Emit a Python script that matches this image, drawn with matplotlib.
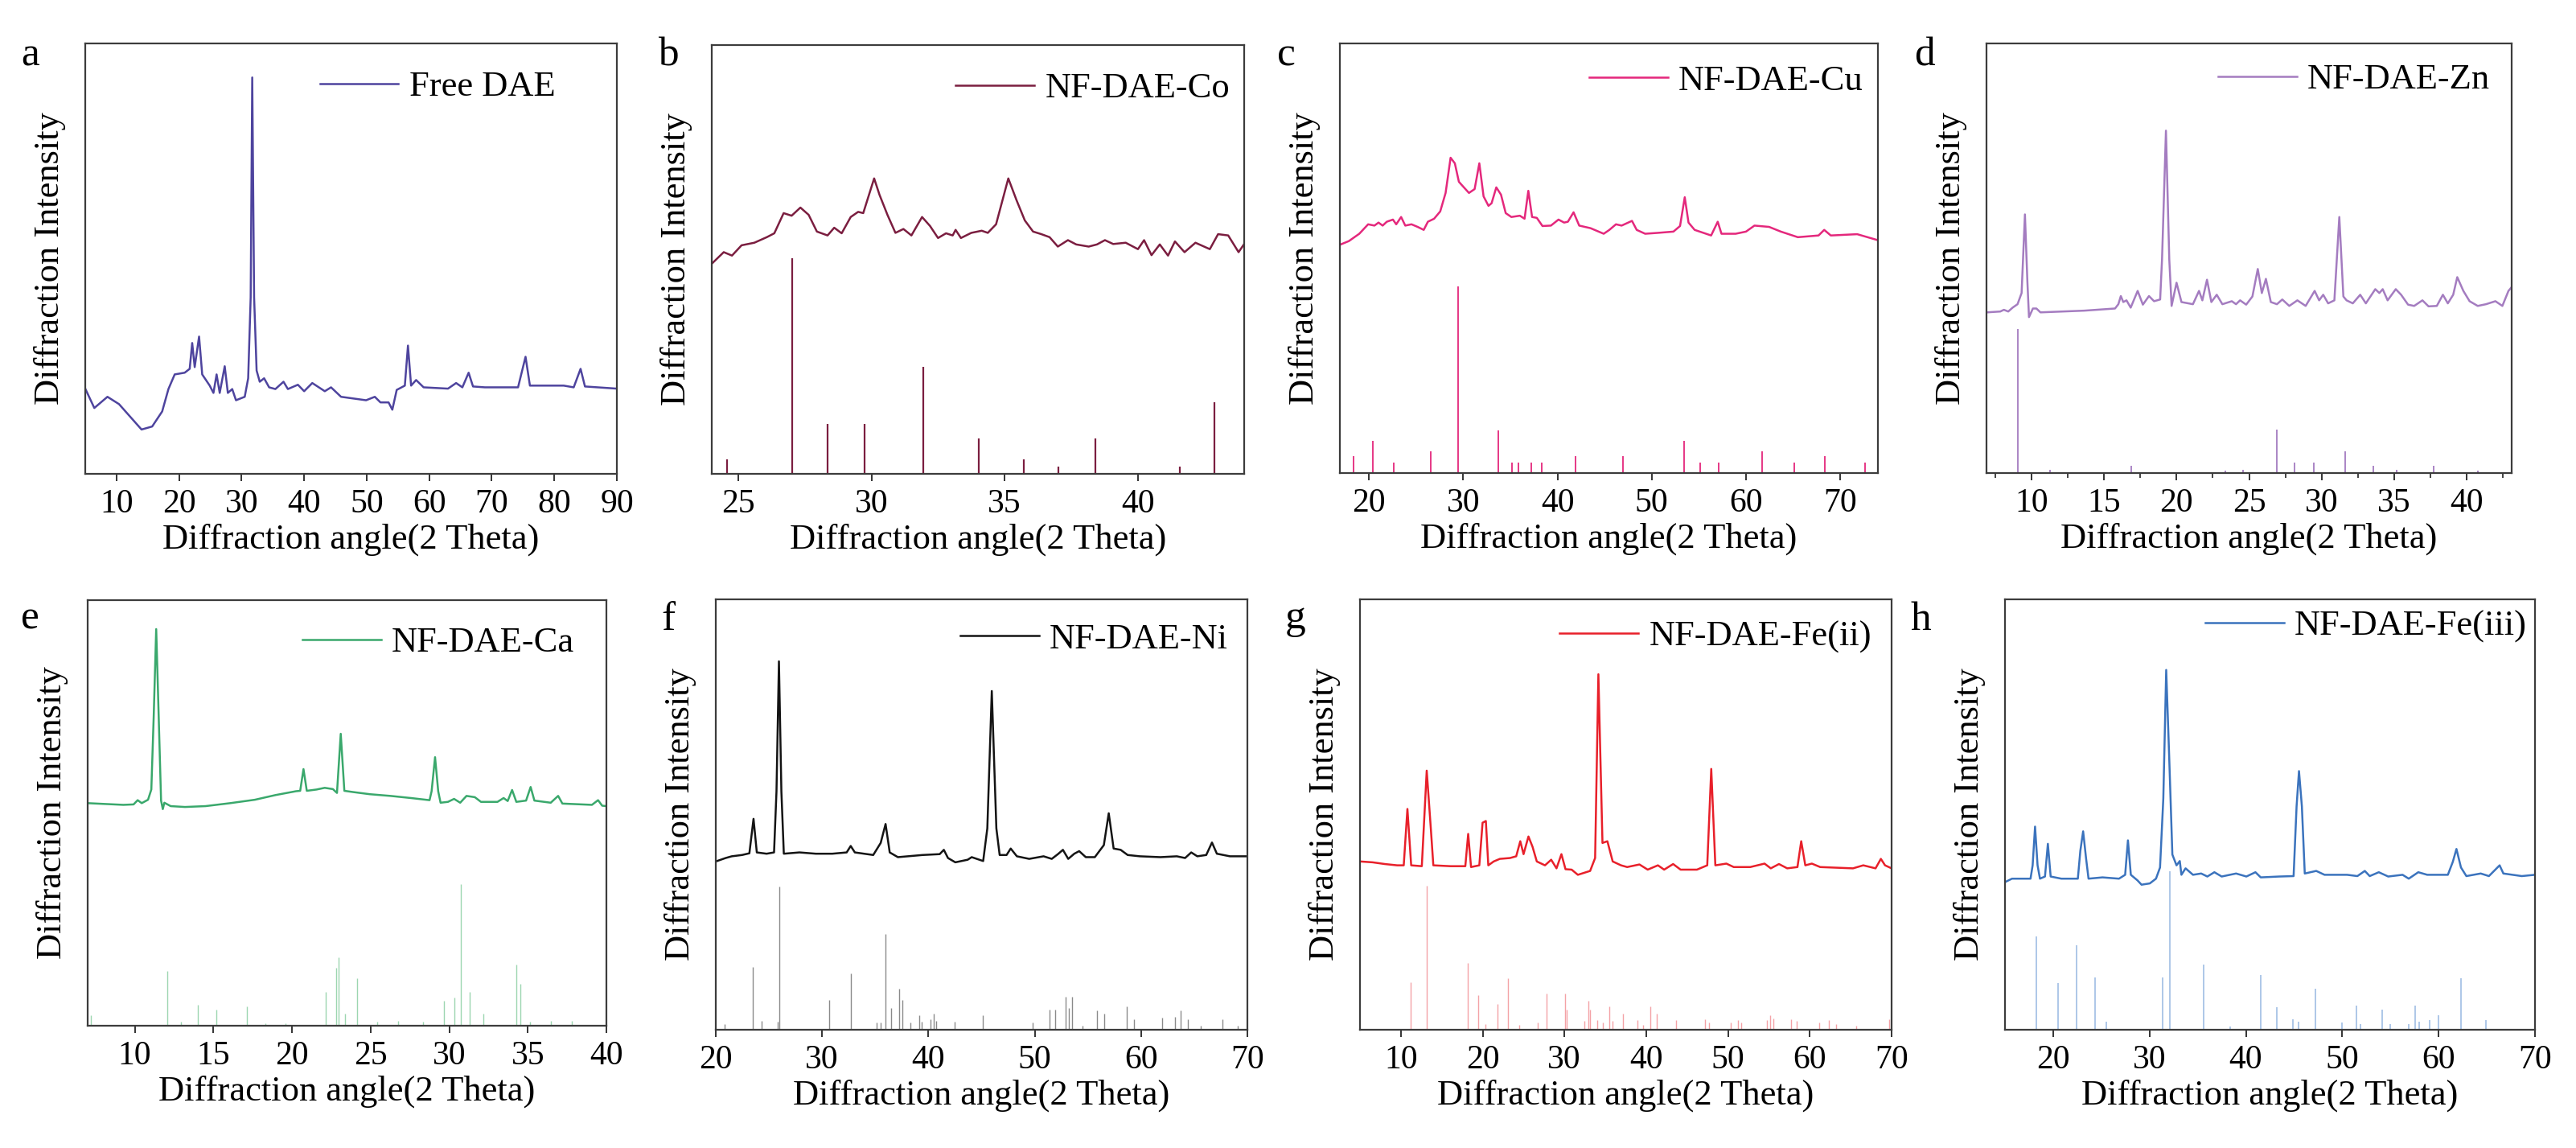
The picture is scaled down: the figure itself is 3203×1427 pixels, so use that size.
import numpy as np
import matplotlib
matplotlib.use("Agg")
import matplotlib.pyplot as plt
from matplotlib.ticker import MultipleLocator

plt.rcParams['font.family'] = ['Liberation Serif', 'DejaVu Serif']

# ---- panel a : Free DAE ----
a_x = [5.0, 6.45, 8.55, 10.4, 14.0, 15.7, 17.3, 18.3, 19.3, 20.9, 21.7, 22.1, 22.5, 23.2, 23.7,
       24.9, 25.5, 26.0, 26.5, 27.3, 27.8, 28.5, 29.1, 30.5, 31.05, 31.45, 31.7, 32.0, 32.4, 32.9,
       33.6, 34.4, 35.4, 36.7, 37.4, 39.0, 40.0, 41.3, 43.3, 44.3, 45.9, 47.9, 49.9, 51.3, 52.2,
       53.5, 54.1, 54.8, 56.1, 56.6, 57.1, 57.9, 59.1, 63.0, 64.3, 65.3, 66.3, 67.0, 68.9, 74.2,
       75.4, 76.1, 81.5, 83.1, 84.2, 84.9, 90.0]
a_y = [19.8, 15.3, 17.9, 16.2, 10.3, 11.0, 14.5, 19.7, 23.1, 23.5, 24.4, 30.4, 24.8, 31.9, 23.1,
       20.5, 18.8, 23.1, 18.8, 25.0, 18.8, 19.7, 17.1, 17.9, 22.2, 41.0, 92.1, 41.0, 24.0, 21.4,
       22.2, 20.1, 19.7, 21.4, 19.7, 20.7, 19.2, 21.1, 19.2, 20.1, 17.9, 17.5, 17.1, 17.9, 16.6,
       16.6, 14.9, 19.5, 20.5, 29.8, 20.5, 21.8, 20.1, 19.8, 21.1, 20.1, 23.5, 20.3, 20.1, 20.1,
       27.2, 20.5, 20.5, 20.1, 24.4, 20.3, 19.8]

# ---- panel b : NF-DAE-Co ----
b_x = [24.0, 24.45, 24.76, 25.12, 25.6, 26.07, 26.35, 26.7, 27.0, 27.33, 27.64, 27.95, 28.35, 28.6,
       28.88, 29.22, 29.5, 29.69, 30.1, 30.3, 30.6, 30.9, 31.2, 31.5, 31.9, 32.2, 32.5, 32.8, 33.05,
       33.16, 33.36, 33.75, 34.14, 34.37, 34.68, 35.14, 35.45, 35.76, 36.07, 36.38, 36.69, 37.0,
       37.38, 37.69, 38.16, 38.47, 38.77, 39.08, 39.55, 40.01, 40.24, 40.52, 40.83, 41.14, 41.4,
       41.76, 42.17, 42.71, 43.02, 43.4, 43.79, 44.0]
b_y = [49.0, 51.7, 50.9, 53.3, 53.9, 55.2, 56.1, 60.8, 60.2, 62.1, 60.4, 56.5, 55.6, 57.4,
       56.1, 59.9, 61.1, 60.8, 68.9, 65.1, 60.4, 56.2, 57.1, 55.6, 59.9, 57.8, 55.0, 56.1, 55.6,
       56.9, 55.0, 56.2, 56.7, 56.2, 58.2, 68.9, 63.8, 59.1, 56.5, 55.9, 55.2, 53.0,
       54.5, 53.5, 53.0, 53.5, 54.5, 53.6, 53.9, 52.4, 54.5, 51.0, 53.5, 50.9, 54.2,
       51.7, 53.9, 52.4, 55.9, 55.6, 51.7, 53.6]
b_ref_x = [24.57, 27.01, 28.36, 29.75, 31.96, 34.02, 35.72, 37.03, 38.42, 41.59, 42.88]
b_ref_h = [3.3, 50.2, 11.7, 11.7, 24.9, 8.2, 3.3, 1.6, 8.2, 1.6, 16.7]

# ---- panel c : NF-DAE-Cu ----
c_x = [16.86, 17.86, 18.96, 19.9, 20.57, 21.0, 21.44, 21.88, 22.53, 22.88, 23.4, 23.84, 24.5, 25.15,
       25.8, 26.24, 26.9, 27.55, 28.12, 28.65, 29.1, 29.53, 30.06, 30.6, 31.2, 31.7, 32.15, 32.67,
       33.0, 33.5, 34.0, 34.5, 35.1, 36.0, 36.5, 36.9, 37.3, 37.8, 38.4, 39.3, 40.1, 40.7, 41.1,
       41.7, 42.3, 43.5, 44.9, 45.5, 46.2, 46.8, 47.9, 48.4, 49.3, 50.6, 52.3, 53.0, 53.5, 53.9,
       54.55, 56.3, 57.0, 57.4, 58.9, 60.0, 60.9, 62.45, 63.7, 65.5, 67.7, 68.3, 69.0, 71.8, 74.0]
c_y = [53.1, 54.0, 55.7, 57.9, 57.6, 58.3, 57.6, 58.5, 59.0, 57.9, 59.6, 57.6, 57.9, 57.3,
       56.6, 58.5, 59.2, 60.9, 65.2, 73.4, 72.1, 67.8, 66.5, 65.2, 66.1, 72.1, 64.4, 62.2,
       62.8, 66.5, 64.8, 60.5, 59.6, 59.9, 59.2, 65.7, 59.6, 59.4, 57.5, 57.6, 59.0, 58.3, 58.5,
       60.7, 57.6, 57.0, 55.7, 56.6, 57.9, 57.6, 58.7, 56.6, 55.7, 55.9, 56.2, 57.5, 64.2, 58.3,
       56.6, 55.3, 58.5, 55.7, 55.7, 56.2, 57.6, 57.3, 56.2, 54.9, 55.3, 56.6, 55.3, 55.6, 54.2]
c_ref_x = [18.34, 20.44, 22.62, 26.54, 29.42, 33.7, 35.14, 35.88, 37.19, 38.32, 41.95, 46.96,
           53.42, 55.17, 57.09, 61.71, 65.11, 68.34, 72.62]
c_ref_h = [4.0, 7.4, 2.4, 5.0, 43.5, 10.0, 2.4, 2.4, 2.4, 2.4, 4.0, 4.0,
           7.4, 2.4, 2.4, 5.0, 2.4, 4.0, 2.4]

# ---- panel d : NF-DAE-Zn ----
d_x = [6.92, 7.85, 8.1, 8.4, 8.7, 9.04, 9.32, 9.55, 9.72, 9.83, 10.1, 10.34, 10.62, 13.64, 15.76,
       15.99, 16.16, 16.33, 16.55, 16.84, 17.32, 17.68, 18.1, 18.45, 18.87, 19.0, 19.27, 19.5,
       19.66, 20.0, 20.34, 21.13, 21.55, 21.78, 22.1, 22.4, 22.77, 23.16, 23.81, 24.1, 24.38,
       24.8, 25.23, 25.6, 25.88, 26.16, 26.5, 26.92, 27.29, 27.77, 28.33, 28.9, 29.52, 29.83,
       30.11, 30.45, 30.88, 31.22, 31.5, 31.72, 32.15, 32.66, 33.05, 33.7, 33.98, 34.21, 34.55,
       35.11, 35.48, 35.96, 36.38, 36.95, 37.37, 37.94, 38.36, 38.7, 39.07, 39.35, 39.77, 40.2,
       40.76, 41.33, 41.98, 42.46, 42.88, 43.08]
d_y = [37.4, 37.6, 38.0, 37.6, 38.5, 39.3, 41.9, 60.2, 44.5, 36.3, 38.3, 38.3, 37.4, 37.8, 38.3,
       39.3, 41.2, 39.8, 40.2, 38.5, 42.4, 39.2, 41.2, 40.0, 40.4, 49.7, 79.7, 49.7,
       38.9, 44.3, 39.8, 39.3, 42.4, 40.2, 45.0, 39.8, 41.5, 39.3, 40.0, 39.3, 40.2,
       39.2, 41.1, 47.5, 41.9, 45.2, 39.8, 39.3, 40.4, 38.9, 40.2, 38.9, 42.4, 40.2,
       41.5, 39.5, 40.2, 59.6, 41.1, 40.2, 39.5, 41.5, 39.5, 42.8, 41.9, 42.8, 40.2,
       42.8, 41.5, 39.2, 38.9, 40.2, 38.8, 38.9, 41.5, 39.5, 41.5, 45.6, 42.4, 40.0,
       38.9, 39.3, 40.0, 38.9, 42.4, 43.2]
d_ref_x = [9.04, 11.3, 16.89, 23.39, 24.58, 26.92, 28.14, 29.46, 31.64, 33.56, 35.2, 37.74, 40.79]
d_ref_h = [33.5, 0.7, 1.7, 0.5, 0.7, 10.2, 2.4, 2.4, 5.0, 1.7, 0.7, 1.7, 0.5]

# ---- panel e : NF-DAE-Ca ----
e_x = [7.0, 9.27, 9.92, 10.18, 10.44, 10.84, 11.05, 11.2, 11.36, 11.52, 11.67, 11.78, 11.88, 12.28,
       13.19, 14.5, 16.07, 17.64, 18.95, 20.25, 20.52, 20.73, 20.94, 21.56, 22.08, 22.6, 22.86,
       23.1, 23.33, 23.9, 24.95, 26.26, 27.57, 28.75, 28.88, 29.1, 29.3, 29.45, 29.92, 30.31,
       30.7, 31.1, 31.63, 32.02, 33.07, 33.46, 33.72, 34.0, 34.27, 34.89, 35.18, 35.42, 36.46,
       36.93, 37.2, 39.08, 39.47, 39.73, 40.0]
e_y = [52.3, 51.9, 52.0, 53.0, 52.3, 53.1, 55.5, 72.5, 93.2, 72.5, 52.9, 50.9, 52.4, 51.6,
       51.4, 51.6, 52.3, 53.1, 54.2, 55.1, 55.2, 60.3, 55.2, 55.5, 55.9, 55.6, 54.7,
       68.6, 55.2, 54.9, 54.4, 54.0, 53.5, 53.0, 55.1, 63.1, 55.1, 52.4, 52.6, 53.3,
       52.4, 54.0, 53.7, 52.6, 52.6, 53.5, 52.8, 55.4, 52.6, 52.9, 56.1, 52.9, 52.4,
       54.0, 52.2, 51.9, 53.0, 51.7, 51.6]
e_ref_x = [7.18, 12.09, 12.93, 14.03, 15.18, 17.11, 18.29, 19.6, 22.14, 22.79, 22.95, 23.39, 24.13,
           25.43, 26.74, 28.31, 29.67, 30.35, 30.72, 31.32, 32.16, 34.25, 34.51, 35.16, 36.47, 37.78]
e_ref_h = [2.4, 12.8, 1.0, 5.0, 3.7, 4.5, 0.6, 0.6, 8.0, 13.7, 16.0, 2.8, 11.1,
           1.0, 1.2, 1.0, 5.8, 6.7, 33.3, 8.0, 2.8, 14.3, 9.8, 0.9, 1.2, 1.2]

# ---- panel f : NF-DAE-Ni ----
f_x = [20.0, 20.93, 21.5, 22.47, 23.16, 23.55, 23.86, 24.78, 25.48, 25.71, 25.94, 26.17, 26.4,
       27.87, 29.41, 30.96, 32.31, 32.69, 33.08, 34.81, 35.51, 35.97, 36.36, 37.13, 39.44, 41.06,
       41.45, 41.84, 42.53, 43.69, 44.07, 45.15, 45.54, 45.96, 46.39, 46.7, 47.35, 47.74, 48.32,
       49.48, 50.83, 51.6, 52.18, 52.65, 53.15, 53.72, 54.18, 54.8, 55.65, 56.5, 56.96, 57.42,
       58.08, 58.74, 59.89, 61.82, 63.36, 64.14, 64.72, 65.29, 66.13, 66.67, 67.13, 68.36, 70.0]
f_y = [39.1, 39.9, 40.3, 40.6, 41.0, 49.0, 41.2, 40.9, 41.2, 55.4, 85.6, 55.4, 40.9,
       41.2, 40.9, 40.9, 41.2, 42.7, 41.2, 40.6, 43.4, 47.8, 41.2, 40.1, 40.6, 40.8,
       41.8, 39.9, 38.9, 39.5, 40.1, 39.2, 46.8, 78.7, 46.8, 40.6, 40.6, 42.1, 40.3,
       39.7, 40.3, 39.7, 40.8, 41.8, 39.7, 40.9, 41.5, 40.1, 40.1, 42.9, 50.3, 42.1,
       41.8, 40.6, 40.3, 40.1, 40.3, 39.9, 41.2, 40.3, 40.6, 43.5, 40.9, 40.3, 40.3]
f_ref_x = [20.81, 23.51, 24.32, 25.79, 25.94, 30.65, 32.69, 35.12, 35.51, 35.97, 36.47, 37.21, 37.52,
           38.29, 39.14, 39.37, 40.22, 40.53, 40.76, 42.45, 45.08, 49.78, 51.4, 51.91, 52.87, 53.22,
           53.53, 54.49, 55.88, 56.5, 58.66, 59.31, 62.01, 63.17, 63.75, 64.44, 65.6, 67.69, 69.07]
f_ref_h = [1.3, 14.5, 2.0, 1.8, 33.2, 7.0, 13.0, 1.6, 1.6, 22.2, 5.0, 9.6, 7.0,
           1.6, 3.3, 1.8, 2.4, 3.7, 2.0, 1.8, 3.3, 1.6, 4.7, 4.7, 7.6, 5.0,
           7.6, 0.9, 4.4, 3.7, 5.4, 2.4, 2.8, 3.0, 4.4, 2.4, 0.9, 2.4, 0.9]

# ---- panel g : NF-DAE-Fe(ii) ----
g_x = [5.0, 6.54, 8.04, 9.55, 10.35, 10.8, 11.26, 12.56, 13.16, 13.66, 13.97, 16.07, 17.88, 18.23,
       18.58, 19.59, 19.99, 20.39, 20.69, 21.35, 22.1, 23.35, 24.1, 24.6, 25.0, 25.6, 26.1, 26.62,
       27.62, 28.38, 29.03, 29.63, 30.13, 30.88, 31.64, 33.14, 33.75, 34.15, 34.65, 35.25, 35.9,
       36.92, 37.67, 39.17, 40.18, 41.43, 42.19, 43.29, 44.2, 46.2, 47.46, 47.95, 48.45, 49.8,
       50.7, 52.72, 54.47, 55.23, 56.23, 57.24, 58.49, 58.95, 59.45, 60.25, 61.27, 65.28, 66.54,
       68.04, 68.69, 69.2, 70.0]
g_y = [39.1, 38.9, 38.5, 38.2, 38.2, 51.3, 38.2, 38.0, 60.2, 46.8, 38.2, 38.0, 38.0, 45.5,
       37.8, 38.2, 48.1, 48.5, 38.2, 39.1, 39.7, 39.9, 40.3, 43.8, 40.8, 44.9, 42.5, 39.1,
       38.2, 39.5, 37.5, 40.8, 37.3, 37.2, 36.0, 36.9, 39.9, 82.6, 43.4, 43.8, 39.1,
       38.2, 37.8, 38.4, 37.2, 38.2, 37.2, 38.5, 37.2, 37.2, 38.2, 60.6, 38.2, 38.6,
       37.8, 37.8, 38.6, 37.5, 38.5, 37.5, 37.8, 43.8, 38.2, 38.6, 37.8, 37.5, 38.2,
       37.5, 39.7, 38.2, 37.5]
g_ref_x = [11.2, 13.16, 18.18, 19.49, 20.34, 21.8, 23.1, 24.51, 26.72, 27.77, 30.03, 30.23, 32.39,
           32.89, 33.14, 34.05, 34.65, 35.5, 35.9, 37.16, 38.92, 39.57, 40.47, 41.28, 43.68, 47.2,
           47.7, 50.31, 51.22, 51.62, 54.73, 55.13, 55.53, 57.74, 58.44, 61.16, 62.36, 63.26,
           65.67, 69.69]
g_ref_h = [11.0, 33.4, 15.6, 8.0, 1.3, 5.9, 11.9, 1.1, 1.6, 8.4, 8.4, 4.6, 2.0,
           6.7, 4.6, 2.2, 1.6, 5.4, 2.0, 3.7, 2.2, 1.1, 5.4, 3.7, 2.2, 2.4,
           1.6, 1.6, 2.2, 1.6, 2.2, 3.3, 2.7, 2.4, 2.0, 1.6, 2.2, 1.3,
           0.9, 2.4]

# ---- panel h : NF-DAE-Fe(iii) ----
h_x = [15.0, 15.73, 16.8, 17.65, 17.87, 18.12, 18.38, 18.63, 19.15, 19.45, 19.74, 20.85, 22.56,
       22.82, 23.11, 23.41, 23.67, 25.12, 26.83, 27.47, 27.76, 28.06, 28.75, 29.17, 30.03, 30.67,
       31.09, 31.43, 31.73, 32.03, 32.37, 32.8, 33.14, 33.31, 33.74, 34.51, 35.36, 36.0, 36.73,
       37.49, 38.98, 40.05, 40.99, 41.54, 43.46, 44.95, 45.26, 45.51, 45.81, 46.11, 47.3, 48.16,
       50.5, 51.57, 52.34, 52.85, 53.79, 54.77, 56.26, 56.9, 57.89, 58.82, 60.96, 61.47, 61.85,
       62.32, 62.88, 64.37, 65.22, 66.33, 66.72, 68.63, 70.0]
h_y = [34.3, 35.1, 35.1, 35.1, 38.2, 47.2, 38.2, 35.1, 35.6, 43.2, 35.6, 35.1, 35.1,
       41.6, 46.1, 39.9, 35.1, 35.4, 35.1, 36.0, 44.0, 36.0, 34.7, 33.7, 34.0, 35.1,
       37.7, 53.7, 83.6, 64.1, 40.7, 38.2, 39.2, 36.0, 37.5, 36.0, 36.3, 35.6, 36.6,
       35.6, 36.3, 35.6, 36.6, 35.4, 35.6, 35.7, 51.9, 60.1, 51.9, 36.3, 36.9, 36.0,
       36.0, 35.7, 36.9, 35.7, 36.6, 35.6, 36.0, 35.1, 36.6, 36.0, 36.0, 39.0, 42.0,
       37.7, 35.7, 36.3, 35.7, 38.2, 36.3, 35.7, 36.0]
h_ref_x = [18.25, 20.51, 22.39, 24.31, 25.55, 31.39, 32.12, 35.61, 38.34, 41.5, 43.17, 44.91, 45.47,
           47.22, 49.99, 51.49, 51.91, 54.13, 54.98, 56.9, 57.59, 57.97, 59.04, 59.97, 62.32, 64.88]
h_ref_h = [21.6, 10.8, 19.6, 12.1, 1.8, 12.1, 36.9, 15.1, 0.7, 12.7, 5.3, 2.4, 1.8,
           9.6, 1.6, 5.6, 1.3, 4.7, 1.3, 1.3, 5.6, 1.8, 2.2, 3.3, 11.9, 2.2]

labels = ['Free DAE', 'NF-DAE-Co', 'NF-DAE-Cu', 'NF-DAE-Zn',
          'NF-DAE-Ca', 'NF-DAE-Ni', 'NF-DAE-Fe(ii)', 'NF-DAE-Fe(iii)']
letters = ['a', 'b', 'c', 'd', 'e', 'f', 'g', 'h']

W, H = 3203, 1427
fig = plt.figure(figsize=(W / 100, H / 100), dpi=100)

def px_axes(l, t, r, b):
    return fig.add_axes([l / W, 1 - b / H, (r - l) / W, (b - t) / H])

panels = [
    dict(box=(106, 54, 767, 589), xlim=(5, 90), step=10, minor=None, col='#4e449e', scol=None, slw=0,
         x=a_x, y=a_y, rx=None, rh=None, leg=(0.884, 0.899), let=(26, 82)),
    dict(box=(885, 56, 1547, 589), xlim=(24, 44), step=5, minor=None, col='#7b1e40', scol='#7b1e40', slw=1.6,
         x=b_x, y=b_y, rx=b_ref_x, rh=b_ref_h, leg=(0.973, 0.898), let=(818, 82)),
    dict(box=(1666, 54, 2335, 588), xlim=(16.9, 74), step=10, minor=None, col='#e4287c', scol='#e4287c', slw=1.3,
         x=c_x, y=c_y, rx=c_ref_x, rh=c_ref_h, leg=(0.973, 0.912), let=(1588, 82)),
    dict(box=(2470, 54, 3123, 588), xlim=(6.9, 43.1), step=5, minor=2.5, col='#a47cc0', scol='#a47cc0', slw=1.3,
         x=d_x, y=d_y, rx=d_ref_x, rh=d_ref_h, leg=(0.959, 0.915), let=(2380, 82)),
    dict(box=(109, 746, 754, 1275), xlim=(7, 40), step=5, minor=None, col='#3aa86c', scol='#9cd6b0', slw=1.0,
         x=e_x, y=e_y, rx=e_ref_x, rh=e_ref_h, leg=(0.938, 0.899), let=(26, 781)),
    dict(box=(890, 745, 1551, 1280), xlim=(20, 70), step=10, minor=None, col='#141414', scol='#8a8a8a', slw=1.0,
         x=f_x, y=f_y, rx=f_ref_x, rh=f_ref_h, leg=(0.964, 0.907), let=(822, 783)),
    dict(box=(1691, 745, 2352, 1280), xlim=(5, 70), step=10, minor=None, col='#e8202a', scol='#f4a2a6', slw=1.0,
         x=g_x, y=g_y, rx=g_ref_x, rh=g_ref_h, leg=(0.962, 0.912), let=(1598, 781)),
    dict(box=(2493, 745, 3152, 1280), xlim=(15, 70), step=10, minor=None, col='#3b73bd', scol='#9fbee4', slw=1.2,
         x=h_x, y=h_y, rx=h_ref_x, rh=h_ref_h, leg=(0.985, 0.937), let=(2376, 783)),
]

for p, lab, letter in zip(panels, labels, letters):
    ax = px_axes(*p['box'])
    ax.plot(p['x'], p['y'], color=p['col'], lw=1.8, label=lab)
    if p['rx'] is not None:
        ax.vlines(p['rx'], 0, p['rh'], color=p['scol'], lw=p['slw'])
    ax.set_xlim(*p['xlim'])
    ax.set_ylim(0, 100)
    ax.xaxis.set_major_locator(MultipleLocator(p['step']))
    if p['minor']:
        ax.xaxis.set_minor_locator(MultipleLocator(p['minor']))
        ax.tick_params(axis='x', which='minor', direction='out', length=4.5, width=1.3, color='#333333')
    ax.tick_params(axis='x', which='major', direction='out', length=6.5, width=1.4,
                   labelsize=30, pad=7, color='#333333')
    ax.set_yticks([])
    for s in ax.spines.values():
        s.set_linewidth(1.6)
        s.set_color('#3c3c3c')
    ax.set_xlabel('Diffraction angle(2 Theta)', fontsize=32, labelpad=3)
    ax.set_ylabel('Diffraction Intensity', fontsize=32, labelpad=17)
    ax.legend(loc='center right', bbox_to_anchor=p['leg'], frameon=False, fontsize=32,
              handlelength=2.2, handletextpad=0.3, borderpad=0, borderaxespad=0)
    fig.text(p['let'][0] / W, 1 - p['let'][1] / H, letter, fontsize=37, ha='left', va='baseline')

fig.savefig('out.png', dpi=100)
